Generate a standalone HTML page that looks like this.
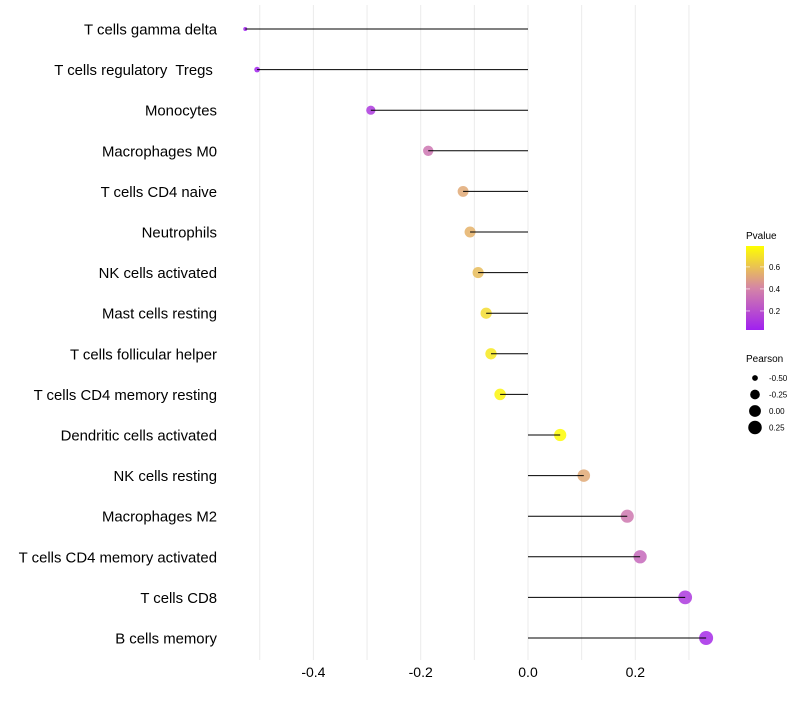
<!DOCTYPE html>
<html><head><meta charset="utf-8"><style>
body{margin:0;background:#fff;font-family:"Liberation Sans",sans-serif}
text{white-space:pre}
</style></head><body>
<svg id="chart" width="800" height="700" xmlns="http://www.w3.org/2000/svg">
<defs><linearGradient id="pg" x1="0" y1="1" x2="0" y2="0">
<stop offset="0" stop-color="#A020F0"/><stop offset="0.5" stop-color="#D585A6"/><stop offset="1" stop-color="#FFFF00"/>
</linearGradient></defs>
<g id="grid"></g><g id="marks"></g><g id="labels"></g>
<g>
<text x="746" y="239" font-size="10" fill="#000">Pvalue</text>
<rect x="746" y="246" width="18" height="84" fill="url(#pg)"/>
<g id="cbticks"></g>
</g>
<g id="sizeleg">
<text x="746" y="362" font-size="10" fill="#000">Pearson</text>
</g>
</svg>
<script>
const categories=["T cells gamma delta","T cells regulatory  Tregs ","Monocytes","Macrophages M0","T cells CD4 naive","Neutrophils","NK cells activated","Mast cells resting","T cells follicular helper","T cells CD4 memory resting","Dendritic cells activated","NK cells resting","Macrophages M2","T cells CD4 memory activated","T cells CD8","B cells memory"];
const pearson=[-0.527,-0.505,-0.293,-0.186,-0.121,-0.108,-0.093,-0.078,-0.069,-0.052,0.060,0.104,0.185,0.209,0.293,0.332];
const pvalue=[0.03,0.04,0.12,0.35,0.52,0.55,0.58,0.68,0.72,0.76,0.78,0.52,0.36,0.30,0.12,0.07];
const xTicks=[-0.4,-0.2,0.0,0.2];
const xTickLabels=["-0.4","-0.2","0.0","0.2"];
const pTicks=[0.2,0.4,0.6];
const sizeLegend=[-0.50,-0.25,0.00,0.25];
const sizeLegendLabels=["-0.50","-0.25","0.00","0.25"];
const NS="http://www.w3.org/2000/svg";
const x=v=>528+v*536.5;
const y=i=>29+i*40.6;
const pMin=0.027,pMax=0.79;
const pMinV=Math.min(...pearson),pMaxV=Math.max(...pearson);
const r=v=>2+5*Math.sqrt(Math.max(0,(v-pMinV))/(pMaxV-pMinV));
function lerp(a,b,t){return a.map((c,i)=>Math.round(c+(b[i]-c)*t));}
function col(p){let t=Math.max(0,Math.min(1,(p-pMin)/(pMax-pMin)));
const A=[160,32,240],M=[213,133,166],B=[255,255,0];
const c=t<0.5?lerp(A,M,t*2):lerp(M,B,(t-0.5)*2);return `rgb(${c.join(",")})`;}
function mk(tag,attrs,parent,text){const e=document.createElementNS(NS,tag);for(const k in attrs)e.setAttribute(k,attrs[k]);if(text!=null)e.textContent=text;parent.appendChild(e);return e;}
const grid=document.getElementById('grid'),marks=document.getElementById('marks'),labels=document.getElementById('labels');
for(let v=-0.5;v<=0.31;v+=0.1){const g=mk('line',{x1:x(v),x2:x(v),y1:5,y2:660,stroke:'#ebebeb','stroke-width':1},grid);

}
xTicks.forEach((v,i)=>{const t=mk('text',{x:x(v),y:677,'font-size':14,'text-anchor':'middle',fill:'#000'},labels,xTickLabels[i]);

});
categories.forEach((c,i)=>{
const t=mk('text',{x:217,y:y(i)+5.5,'font-size':14.9,'text-anchor':'end',fill:'#000'},labels,c);


const pt=mk('circle',{cx:x(pearson[i]),cy:y(i),r:r(pearson[i]),fill:col(pvalue[i]),'fill-opacity':0.85},marks);


const ln=mk('line',{x1:x(pearson[i]),x2:x(0),y1:y(i),y2:y(i),stroke:'#000','stroke-width':1},marks);


});
const cb=document.getElementById('cbticks');
pTicks.forEach(p=>{const yy=330-(p-pMin)/(pMax-pMin)*84;
mk('line',{x1:746,x2:750,y1:yy,y2:yy,stroke:'#fff','stroke-width':0.6},cb);
mk('line',{x1:760,x2:764,y1:yy,y2:yy,stroke:'#fff','stroke-width':0.6},cb);
const t=mk('text',{x:769,y:yy+3,'font-size':8,fill:'#000'},cb,p.toFixed(1));

});
const sl=document.getElementById('sizeleg');
sizeLegend.forEach((v,i)=>{const yy=378+i*16.5;
const c=mk('circle',{cx:755,cy:yy,r:r(v),fill:'#000'},sl);


mk('text',{x:769,y:yy+3,'font-size':8,fill:'#000'},sl,sizeLegendLabels[i]);});
</script>
</body></html>
